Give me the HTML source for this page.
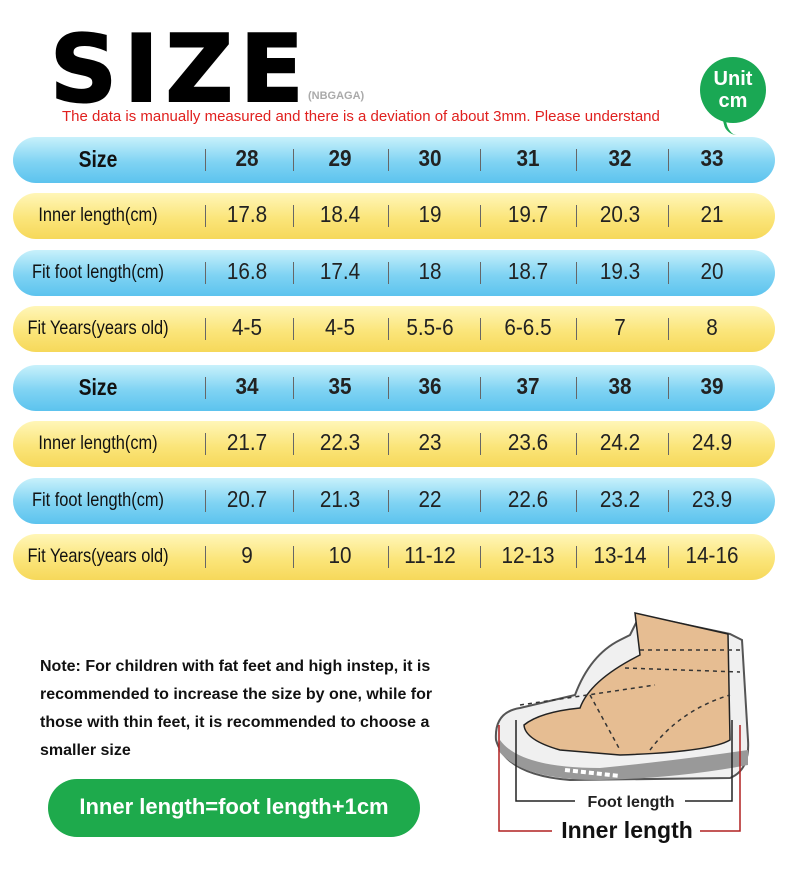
<!DOCTYPE html>
<html><head><meta charset="utf-8"><style>
body{margin:0;width:790px;height:888px;background:#fff;position:relative;overflow:hidden;font-family:"Liberation Sans",sans-serif}
.a{position:absolute}
.row{position:absolute;left:13px;width:762px;height:46px;border-radius:23px}
.b{background:linear-gradient(#c8f1fb 0%,#7fd3f3 55%,#5cc3ee 100%)}
.y{background:linear-gradient(#fff6b8 0%,#fbe57a 55%,#f6d85a 100%)}
.c{position:absolute;top:-2px;height:46px;line-height:46px;text-align:center;font-size:23px;color:#222;transform:scaleX(.9)}
.l{position:absolute;top:-1px;height:46px;line-height:46px;left:-10px;width:190px;text-align:center;font-size:19.5px;color:#111;transform:scaleX(.84)}
.d{position:absolute;top:12px;width:1px;height:22px;background:#666}
.h .c{font-weight:bold}
.h .l{font-weight:bold;font-size:23px}
</style></head><body>
<div class="a" style="left:50px;top:19px;font-family:'DejaVu Sans',sans-serif;font-weight:bold;font-size:93px;line-height:100px;color:#000;letter-spacing:7px;-webkit-text-stroke:2px #000">SIZE</div>
<div class="a" style="left:308px;top:90px;font-size:11px;font-weight:bold;color:#aaa">(NBGAGA)</div>
<div class="a" style="left:62px;top:108px;font-size:15px;color:#e0201e">The data is manually measured and there is a deviation of about 3mm. Please understand</div>
<div class="a" style="left:700px;top:57px;width:66px;height:66px;border-radius:50%;background:#1aa854;color:#fff;font-weight:bold;font-size:20px;text-align:center;line-height:22px;padding-top:11px;box-sizing:border-box">Unit<br>cm</div>
<div class="a" style="left:724px;top:115px;width:10px;height:20px;border-left:3px solid #1aa854;border-radius:0 0 0 10px;transform:skewX(15deg)"></div>
<div id="t"></div>
<div class="a" style="left:40px;top:653px;font-size:16px;font-weight:bold;line-height:28px;color:#111;width:450px">Note: For children with fat feet and high instep, it is<br>recommended to increase the size by one, while for<br>those with thin feet, it is recommended to choose a<br>smaller size</div>
<div class="a" style="left:48px;top:779px;width:372px;height:58px;border-radius:29px;background:#1eaa4c;color:#fff;font-weight:bold;font-size:22px;line-height:56px;text-align:center">Inner length=foot length+1cm</div>
<svg class="a" style="left:480px;top:600px" width="310" height="288" viewBox="0 0 310 288">
<path d="M40 108 Q14 112 16 140 Q26 175 90 180 L250 178 Q270 170 268 140 L262 40 L250 34 L160 15 L150 35 L140 40 Q110 55 95 95 Z" fill="#f0f0f0" stroke="#555" stroke-width="2"/>
<path d="M155 13 L248 34 L250 140 Q230 152 140 155 L80 150 Q45 140 44 125 Q60 112 100 108 Q110 80 160 55 Z" fill="#e6bd92" stroke="#222" stroke-width="1.5"/>
<path d="M20 140 Q40 168 120 168 Q200 160 268 150 L268 165 Q200 178 120 180 Q40 180 18 150 Z" fill="#999"/>
<path d="M85 170 L140 176" stroke="#fff" stroke-width="4" stroke-dasharray="5 3"/>
<path d="M40 105 L175 85 M160 50 L262 50 M145 68 L260 72 M110 95 L140 150 M170 150 Q200 110 250 95" stroke="#333" stroke-width="1.5" stroke-dasharray="4 4" fill="none"/>
<path d="M36 120 L36 201 L95 201 M205 201 L252 201 L252 120" stroke="#222" stroke-width="1.5" fill="none"/>
<path d="M19 125 L19 231 L72 231 M220 231 L260 231 L260 125" stroke="#b02020" stroke-width="1.5" fill="none"/>
<text x="151" y="207" text-anchor="middle" font-family="Liberation Sans" font-weight="bold" font-size="16" fill="#222">Foot length</text>
<text x="147" y="238" text-anchor="middle" font-family="Liberation Sans" font-weight="bold" font-size="23" fill="#111">Inner length</text>
</svg>
<script>
var rows=[
[137,'b',1,'Size',['28','29','30','31','32','33']],
[193,'y',0,'Inner length(cm)',['17.8','18.4','19','19.7','20.3','21']],
[250,'b',0,'Fit foot length(cm)',['16.8','17.4','18','18.7','19.3','20']],
[306,'y',0,'Fit Years(years old)',['4-5','4-5','5.5-6','6-6.5','7','8']],
[365,'b',1,'Size',['34','35','36','37','38','39']],
[421,'y',0,'Inner length(cm)',['21.7','22.3','23','23.6','24.2','24.9']],
[478,'b',0,'Fit foot length(cm)',['20.7','21.3','22','22.6','23.2','23.9']],
[534,'y',0,'Fit Years(years old)',['9','10','11-12','12-13','13-14','14-16']]];
var cx=[247,340,430,528,620,712],dv=[205,293,388,480,576,668],h='';
rows.forEach(function(r){h+='<div class="row '+r[1]+(r[2]?' h':'')+'" style="top:'+r[0]+'px"><div class="l">'+r[3]+'</div>';
dv.forEach(function(x){h+='<div class="d" style="left:'+(x-13)+'px"></div>'});
r[4].forEach(function(v,i){h+='<div class="c" style="left:'+(cx[i]-13-45)+'px;width:90px">'+v+'</div>'});h+='</div>'});
document.getElementById('t').innerHTML=h;
</script>
</body></html>
